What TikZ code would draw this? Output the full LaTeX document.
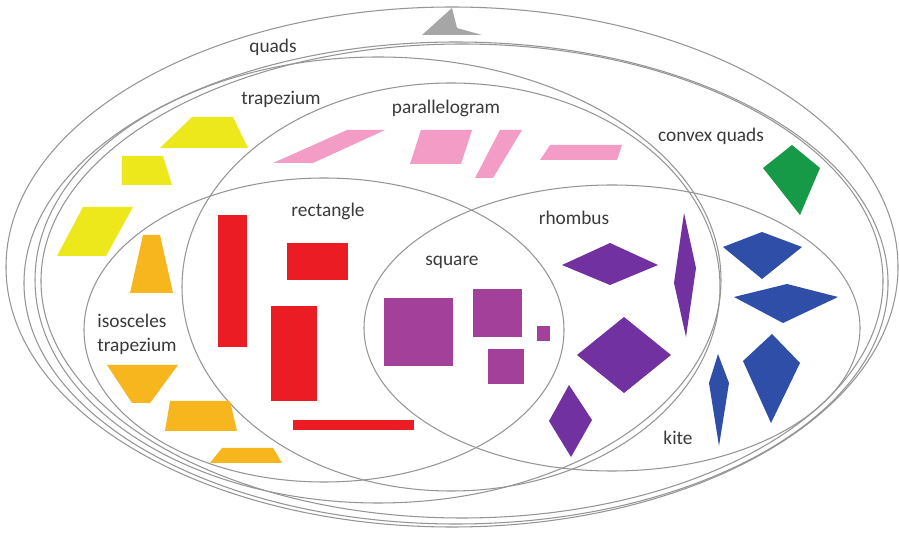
\documentclass[tikz,border=0pt]{standalone}
\usepackage{fontspec}
\setmainfont{Carlito}
\usetikzlibrary{positioning}
\definecolor{setc}{HTML}{959595}
\definecolor{labc}{HTML}{3A3A3A}
\definecolor{quadc}{HTML}{A6A6A6}
\definecolor{trapc}{HTML}{EDE81B}
\definecolor{isoc}{HTML}{F7B51E}
\definecolor{rectc}{HTML}{EC1C24}
\definecolor{sqc}{HTML}{A2409A}
\definecolor{rhomc}{HTML}{7131A0}
\definecolor{kitec}{HTML}{2E4EA8}
\definecolor{convc}{HTML}{179A48}
\definecolor{parac}{HTML}{F39CC5}

\begin{document}
\begin{tikzpicture}[x=.02cm,y=-.02cm,
  setedge/.style={setc,line width=.6pt},
  setlab/.style={font=\fontsize{11}{13.6}\selectfont,text=labc,inner sep=0pt}]
\fill[white] (0,0) rectangle (899,536);
\useasboundingbox (0,0) rectangle (899,536);
% set outlines: quads, convex quads, trapezium, parallelogram, isosceles trapezium, kite
\foreach \cx/\cy/\rx/\ry in {452/267/446/260,456/283/432/241,462/281/421/237,378/280/343/223,
  451/287/269/204,324/330/240/152,612/328/248/143}{
 \draw[setedge] (\cx,\cy) ellipse [x radius=\rx,y radius=\ry];
}
% concave quad
\fill[quadc] (422,35)--(452,8)--(457,28)--(482,35)--cycle;
% trapezia
\fill[trapc] (160,148)--(192,117)--(233,117)--(248,148)--cycle;
\fill[trapc] (122,156)--(163,156)--(172,185)--(122,185)--cycle;
\fill[trapc] (57,256)--(83,207)--(133,207)--(106,256)--cycle;
% isosceles trapezia
\fill[isoc] (143,235)--(160,235)--(173,293)--(130,293)--cycle;
\fill[isoc] (107,365)--(178,365)--(150,403)--(132,403)--cycle;
\fill[isoc] (170,401)--(230,401)--(237,431)--(165,431)--cycle;
\fill[isoc] (222,448)--(273,448)--(282,463)--(210,463)--cycle;
% rectangles
\foreach \xa/\ya/\xb/\yb in {218/215/247/347,287/243/348/280,271/306/317/401,293/420/414/430}{
 \fill[rectc] (\xa,\ya) rectangle (\xb,\yb);
}
% squares
\foreach \xa/\ya/\xb/\yb in {384/298/453/366,473/289/522/337,537/326/550/341,488/349/524/384}{
 \fill[sqc] (\xa,\ya) rectangle (\xb,\yb);
}
% parallelograms
\fill[parac] (273,163)--(347,130)--(385,130)--(313,163)--cycle;
\fill[parac] (421,130)--(472,130)--(461,164)--(410,164)--cycle;
\fill[parac] (500,130)--(522,130)--(493,178)--(475,178)--cycle;
\fill[parac] (550,145)--(622,145)--(617,160)--(540,160)--cycle;
% rhombi
\fill[rhomc] (562,265)--(610,243)--(658,265)--(610,285)--cycle;
\fill[rhomc] (684,213)--(696,268)--(686,337)--(674,283)--cycle;
\fill[rhomc] (577,355)--(624,317)--(671,355)--(624,393)--cycle;
\fill[rhomc] (569,385)--(592,420)--(571,457)--(549,421)--cycle;
% kites
\fill[kitec] (723,247)--(762,232)--(802,247)--(762,279)--cycle;
\fill[kitec] (734,297)--(787,284)--(838,297)--(783,323)--cycle;
\fill[kitec] (772,334)--(800,363)--(771,423)--(743,361)--cycle;
\fill[kitec] (718,354)--(729,383)--(719,446)--(709,383)--cycle;
% convex quad
\fill[convc] (792,145)--(820,168)--(800,215)--(763,168)--cycle;
% labels
\node[setlab] (lquads) at (273,47) {quads};
\node[setlab] (ltrap) at (281,99) {trapezium};
\node[setlab] (lpara) at (446,108) {parallelogram};
\node[setlab] (lconv) at (711,136) {convex quads};
\node[setlab] (lrect) at (328,211) {rectangle};
\node[setlab] (lsq) at (452,262) {square};
\node[setlab] (lrhom) at (574,218) {rhombus};
\node[setlab] (lkite) at (678,438) {kite};
\node[setlab,align=left] (liso) at (137,334) {isosceles\\trapezium};
\end{tikzpicture}
\end{document}
